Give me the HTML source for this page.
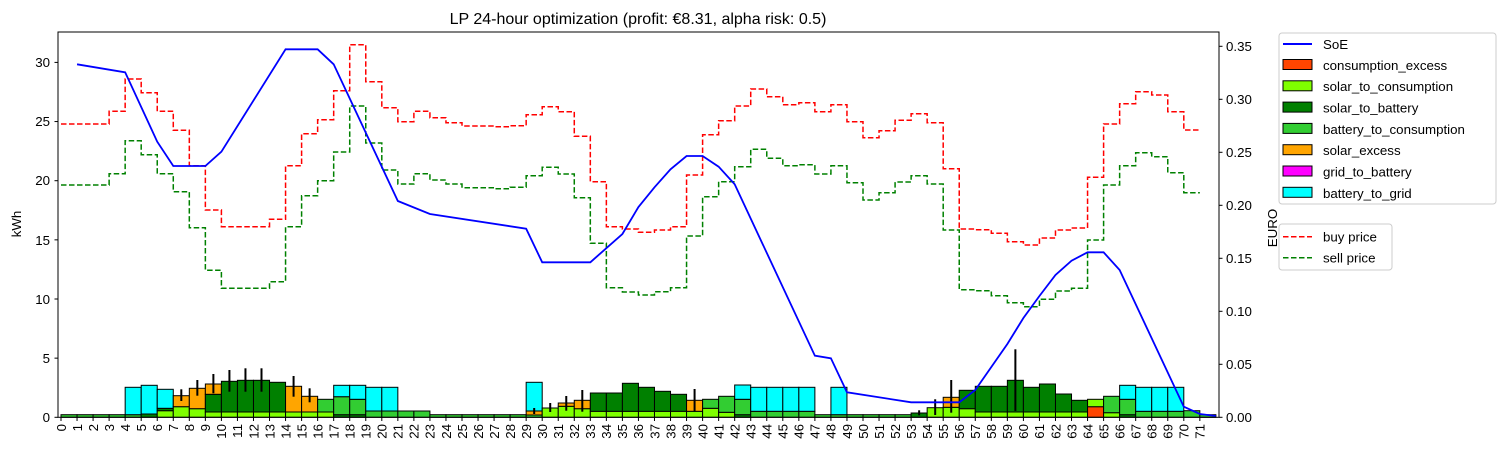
<!DOCTYPE html>
<html><head><meta charset="utf-8"><style>
html,body{margin:0;padding:0;background:#fff;}
svg{display:block;font-family:"Liberation Sans","DejaVu Sans",sans-serif;}
</style></head><body>
<svg id="s" width="1506" height="454" viewBox="0 0 1506 454" xmlns="http://www.w3.org/2000/svg">
<rect width="1506" height="454" fill="#fff"/>
<g id="bars"></g>
<g id="lines"></g>
<rect x="58" y="32" width="1161" height="385.3" fill="none" stroke="#000" stroke-width="1"/>
<text x="638" y="24" font-size="16" text-anchor="middle">LP 24-hour optimization (profit: €8.31, alpha risk: 0.5)</text>
<text transform="translate(21,224) rotate(-90)" font-size="13.3" text-anchor="middle">kWh</text>
<text transform="translate(1277,228) rotate(-90)" font-size="13.3" text-anchor="middle">EURO</text>
<g font-size="13.3" text-anchor="end">
<text x="50" y="422">0</text><text x="50" y="363">5</text><text x="50" y="304">10</text><text x="50" y="245">15</text><text x="50" y="185">20</text><text x="50" y="126">25</text><text x="50" y="67">30</text>
</g>
<g font-size="13.3">
<text x="1226" y="422">0.00</text><text x="1226" y="369">0.05</text><text x="1226" y="316">0.10</text><text x="1226" y="263">0.15</text><text x="1226" y="210">0.20</text><text x="1226" y="157">0.25</text><text x="1226" y="104">0.30</text><text x="1226" y="51">0.35</text>
</g>
<g id="ticks" stroke="#000" stroke-width="1"></g>
<g id="xl" font-size="13.3" text-anchor="end">
<text>0</text><text>1</text><text>2</text><text>3</text><text>4</text><text>5</text><text>6</text><text>7</text><text>8</text><text>9</text><text>10</text><text>11</text><text>12</text><text>13</text><text>14</text><text>15</text><text>16</text><text>17</text><text>18</text><text>19</text><text>20</text><text>21</text><text>22</text><text>23</text><text>24</text><text>25</text><text>26</text><text>27</text><text>28</text><text>29</text><text>30</text><text>31</text><text>32</text><text>33</text><text>34</text><text>35</text><text>36</text><text>37</text><text>38</text><text>39</text><text>40</text><text>41</text><text>42</text><text>43</text><text>44</text><text>45</text><text>46</text><text>47</text><text>48</text><text>49</text><text>50</text><text>51</text><text>52</text><text>53</text><text>54</text><text>55</text><text>56</text><text>57</text><text>58</text><text>59</text><text>60</text><text>61</text><text>62</text><text>63</text><text>64</text><text>65</text><text>66</text><text>67</text><text>68</text><text>69</text><text>70</text><text>71</text>
</g>
<rect x="1279" y="33" width="217" height="171" rx="3" fill="#fff" stroke="#ccc"/>
<line x1="1283" y1="44" x2="1312" y2="44" stroke="#0000ff" stroke-width="2"/>
<g stroke="#000" stroke-width="1">
<rect x="1283" y="59.5" width="29" height="10" fill="#ff4500"/>
<rect x="1283" y="80.8" width="29" height="10" fill="#7fff00"/>
<rect x="1283" y="102.1" width="29" height="10" fill="#008000"/>
<rect x="1283" y="123.4" width="29" height="10" fill="#32cd32"/>
<rect x="1283" y="144.7" width="29" height="10" fill="#ffa500"/>
<rect x="1283" y="166" width="29" height="10" fill="#ff00ff"/>
<rect x="1283" y="187.3" width="29" height="10" fill="#00ffff"/>
</g>
<g font-size="13.3">
<text x="1323" y="49">SoE</text>
<text x="1323" y="70">consumption_excess</text>
<text x="1323" y="91">solar_to_consumption</text>
<text x="1323" y="112.5">solar_to_battery</text>
<text x="1323" y="134">battery_to_consumption</text>
<text x="1323" y="155">solar_excess</text>
<text x="1323" y="176.5">grid_to_battery</text>
<text x="1323" y="198">battery_to_grid</text>
</g>
<rect x="1279" y="224" width="113" height="46" rx="3" fill="#fff" stroke="#ccc"/>
<line x1="1283" y1="236.7" x2="1312" y2="236.7" stroke="#ff0000" stroke-width="1.5" stroke-dasharray="5.5,2.5"/>
<line x1="1283" y1="257.7" x2="1312" y2="257.7" stroke="#008000" stroke-width="1.5" stroke-dasharray="5.5,2.5"/>
<g font-size="13.3">
<text x="1323" y="241.5">buy price</text>
<text x="1323" y="262.5">sell price</text>
</g>
</svg>
<script>
const NS="http://www.w3.org/2000/svg";
const X=t=>61+16.04*t, B=417.3;
function el(p,tag,a){const e=document.createElementNS(NS,tag);for(const k in a)e.setAttribute(k,a[k]);p.appendChild(e);return e;}
const C={ce:"#ff4500",sc:"#7fff00",sb:"#008000",bc:"#32cd32",se:"#ffa500",bg:"#00ffff"};
const T=414.7;
const bars={
0:[["bc",T]],1:[["bc",T]],2:[["bc",T]],3:[["bc",T]],
4:[["bc",T],["bg",387.3]],5:[["sb",414],["bg",385.3]],6:[["sc",410.7],["sb",408.3],["bg",389.3]],
7:[["sc",406.7],["se",395.7]],8:[["sc",408.7],["se",388.3]],9:[["sc",412],["sb",394.3],["se",384]],
10:[["sc",412],["sb",381.3]],11:[["sc",412],["sb",380.3]],12:[["sc",412],["sb",380.3]],13:[["sc",412],["sb",382.3]],
14:[["sc",412],["se",386.3]],15:[["sc",412],["se",396.3]],16:[["sc",412],["bc",399.3]],
17:[["sb",414.7],["bc",396.7],["bg",385.3]],18:[["sb",414.7],["bc",399.3],["bg",385.3]],
19:[["bc",411],["bg",387.3]],20:[["bc",411],["bg",387.3]],21:[["bc",411]],22:[["bc",411]],
23:[["bc",T]],24:[["bc",T]],25:[["bc",T]],26:[["bc",T]],27:[["bc",T]],28:[["bc",T]],
29:[["bc",415],["se",411],["bg",382.3]],30:[["sc",408]],31:[["sc",406.3],["se",403]],32:[["sc",408.7],["se",400.3]],
33:[["sc",411.3],["sb",393]],34:[["sc",411.3],["sb",393]],35:[["sc",411.3],["sb",383.3]],36:[["sc",411.3],["sb",387.3]],
37:[["sc",411.3],["sb",391.3]],38:[["sc",411.3],["sb",394.3]],39:[["sc",411.3],["se",400.3]],
40:[["sc",408.3],["bc",399.3]],41:[["sc",412.3],["bc",396.3]],42:[["sb",414.7],["bc",399.3],["bg",385]],
43:[["bc",411.3],["bg",387.3]],44:[["bc",411.3],["bg",387.3]],45:[["bc",411.3],["bg",387.3]],46:[["bc",411.3],["bg",387.3]],
47:[["bc",T]],48:[["bc",T],["bg",387.3]],49:[["bc",T]],50:[["bc",T]],51:[["bc",T]],52:[["bc",T]],
53:[["sb",413]],54:[["sc",407.7]],55:[["sc",407.3],["se",397.3]],
56:[["sc",408.7],["sb",390.3]],57:[["sc",412],["sb",386.3]],58:[["sc",412],["sb",386.3]],59:[["sc",412],["sb",380.3]],
60:[["sc",412],["sb",387.3]],61:[["sc",412],["sb",384]],62:[["sc",412],["sb",394]],63:[["sc",412],["sb",400.3]],
64:[["ce",406.7],["sc",399.3]],65:[["sc",412.7],["bc",396.3]],66:[["sb",414.7],["bc",399.3],["bg",385.3]],
67:[["bc",411.3],["bg",387.3]],68:[["bc",411.3],["bg",387.3]],69:[["bc",411.3],["bg",387.3]],70:[["bc",410.7]],71:[["bc",T]]
};
const gb=document.getElementById("bars");
for(const t in bars){let y0=B;for(const [c,y] of bars[t]){el(gb,"rect",{x:X(+t),y:y,width:16.04,height:Math.max(y0-y,0.5),fill:C[c],stroke:"#000","stroke-width":1});y0=y;}}
const errs=[[7.5,389.3,401],[8.5,380,395.7],[9.5,374,393.3],[10.5,370,391.7],[11.5,368.3,391.7],[12.5,368.3,391.7],[14.5,376,396.7],[15.5,388.3,402.3],
[29.5,408,414],[30.5,403,412],[31.5,396,410.7],[32.5,390,411.7],[39.5,389,411.7],[53.5,410.3,415.3],[54.5,399.3,415],[55.5,380,412.7],[59.5,349.3,411]];
for(const [t,a,b] of errs)el(gb,"line",{x1:X(t),x2:X(t),y1:a,y2:b,stroke:"#000","stroke-width":2});
const gl=document.getElementById("lines");
function steps(v,col){let d="M"+X(0)+","+v[0];for(let i=0;i<v.length;i++){if(i>0)d+="V"+v[i];d+="H"+X(i+1);}el(gl,"path",{d:d,fill:"none",stroke:col,"stroke-width":1.5,"stroke-dasharray":"5.5,2.5"});}
const buy=[124,124,124,111.3,79,92.7,111.3,130.3,165.7,210,226.7,226.7,226.7,219.3,165.7,133.7,119.7,90.7,44.7,81.7,107.7,121.7,111.3,117.7,122.7,126,126,126.7,125.7,114.7,106.7,111.7,136.3,181.7,226.7,229,232.3,230,226.7,175,134.7,120.7,106,89,96.7,104.7,102.7,111.7,104.7,121.7,137.7,130.7,120.3,113.7,122.7,168.7,229,229.7,233.3,241.7,245,238,230,228,177.3,124,103.7,91.7,95,111.7,130];
const sell=[185,185,185,173.7,140.7,154.7,173.7,191.7,227.7,270.3,288.3,288.3,288.3,281.7,226.7,195.7,180.7,152,106,143,170,184,173.7,180,184,187.7,187.7,188.7,187.3,175.7,167.3,174,197.7,243.3,287.7,292,295,291.7,287.7,236,196.7,181.7,166.7,149.3,158.3,165.7,164.7,174,165.7,182.7,200,192.7,182,175.7,184,230,289.7,290.7,295.7,302.7,306.7,299.3,291,288.3,240,185,165.7,152.7,156.7,172.7,192.7];
steps(buy,"#ff0000");steps(sell,"#008000");
const soe={1:64.3,4:72.3,6:141.7,7:166,8:166,9:166,10:151.7,14:49.3,16:49.3,17:64.3,21:201,23:214,29:228.7,30:262.3,33:262.3,35:234,36:207,37:187.3,38:169.3,39:156,40:156,41:166.7,42:184.3,47:355.7,48:358.3,49:392.3,53:402.3,56:402.3,57:390,58:367,59:344,60:318,61:296,62:275,63:260.7,64:252.3,65:252.3,66:270,70:406.7,71:414,72:416};
let d="";for(const k of Object.keys(soe).map(Number).sort((a,b)=>a-b))d+=(d?"L":"M")+X(k)+","+soe[k];
el(gl,"path",{d:d,fill:"none",stroke:"#0000ff","stroke-width":1.8});
const tk=document.getElementById("ticks");
for(let t=0;t<72;t++)el(tk,"line",{x1:X(t),x2:X(t),y1:417.3,y2:421});
for(let v=0;v<=30;v+=5){const y=B-v*11.83;el(tk,"line",{x1:54.5,x2:58,y1:y,y2:y});}
for(let i=0;i<=7;i++){const y=B-i*0.05*1060;el(tk,"line",{x1:1219,x2:1222.5,y1:y,y2:y});}
const xl=document.getElementById("xl").children;
for(let t=0;t<xl.length;t++)xl[t].setAttribute("transform","translate("+(X(t)+4.8)+",424) rotate(-90)");
</script>
</body></html>
